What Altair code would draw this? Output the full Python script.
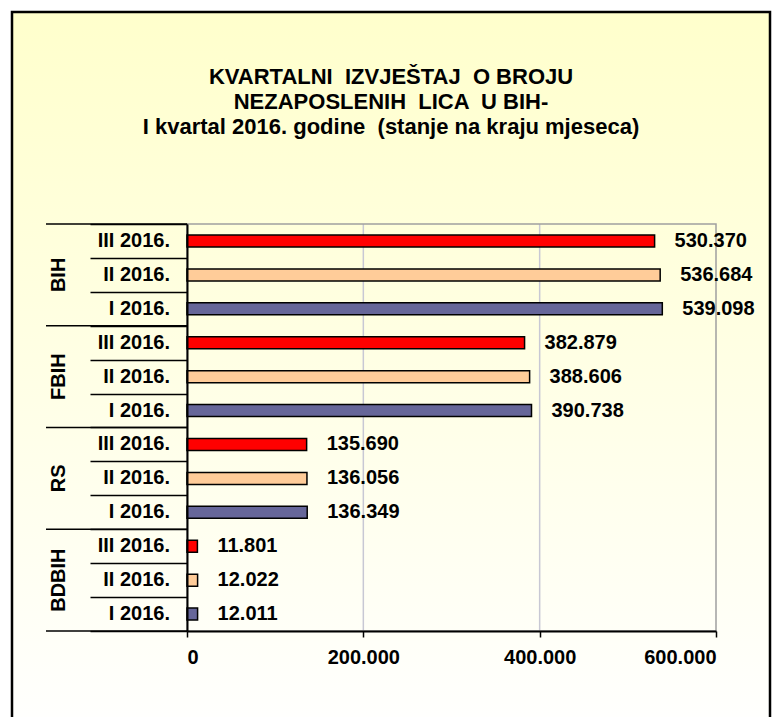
import altair as alt
import pandas as pd

groups = ["BIH", "FBIH", "RS", "BDBIH"]
quarters = ["III 2016.", "II 2016.", "I 2016."]
values_bih = [530370, 536684, 539098]
values_fbih = [382879, 388606, 390738]
values_rs = [135690, 136056, 136349]
values_bdbih = [11801, 12022, 12011]
colors = ["#FF0000", "#FFCC99", "#666699"]
x_ticks = [0, 200000, 400000, 600000]
grid_ticks = [200000, 400000]
NB = "\u00a0"
title_lines = [
    "KVARTALNI " + NB + "IZVJEŠTAJ " + NB + "O BROJU",
    "NEZAPOSLENIH " + NB + "LICA " + NB + "U BIH-",
    "I kvartal 2016. godine " + NB + "(stanje na kraju mjeseca)",
]

series = [values_bih, values_fbih, values_rs, values_bdbih]
rows = []
for g, vals in zip(groups, series):
    for q, v in zip(quarters, vals):
        rows.append({"group": g, "quarter": q, "value": v, "key": g + "|" + q})
df = pd.DataFrame(rows)
order = list(df["key"])

W, H = 529, 407
FONT = "Liberation Sans"
LBL = 20

yscale = alt.Scale(domain=order, paddingInner=0, paddingOuter=0)
xscale = alt.Scale(domain=[0, 600000], nice=False, zero=True)

base = alt.Chart(df)
one = pd.DataFrame({"a": [0]})

bg = alt.Chart(one).mark_rect(
    fill=alt.LinearGradient(
        gradient="linear",
        stops=[alt.GradientStop(color="#FFFFCC", offset=0),
               alt.GradientStop(color="#FFFFFF", offset=1)],
        x1=0, x2=0, y1=0, y2=1),
    stroke="black", strokeWidth=2.5,
).encode(x=alt.value(-175), x2=alt.value(583), y=alt.value(-212), y2=alt.value(520))

title = alt.Chart(one).mark_text(
    text=title_lines, lineHeight=25, fontSize=22, fontWeight="bold", font=FONT,
    color="black", align="center", baseline="middle",
).encode(x=alt.value(204), y=alt.value(-147))

grid = alt.Chart(pd.DataFrame({"t": grid_ticks})).mark_rule(
    color="#C8C8D4", strokeWidth=1.5
).encode(x=alt.X("t:Q", scale=xscale), y=alt.value(0), y2=alt.value(H))

frame = alt.Chart(one).mark_rect(
    filled=False, stroke="#A0A0A0", strokeWidth=1.5
).encode(x=alt.value(0), x2=alt.value(W), y=alt.value(0), y2=alt.value(H))

bars = base.mark_bar(size=12, stroke="black", strokeWidth=1.5).encode(
    x=alt.X("value:Q", scale=xscale, axis=alt.Axis(
        values=x_ticks, title=None, grid=False,
        labelExpr="datum.value == 0 ? '0' : replace(format(datum.value, ','), ',', '.')",
        domainColor="black", domainWidth=2, tickColor="black", tickSize=6, tickWidth=1.5,
        labelFontSize=LBL, labelFontWeight="bold", labelColor="black", labelPadding=10,
        labelFont=FONT, zindex=2)),
    y=alt.Y("key:N", sort=order, scale=yscale, axis=alt.Axis(
        labels=False, title=None, tickBand="extent", tickSize=97, tickColor="black",
        tickWidth=1.5, domainColor="black", domainWidth=2, zindex=2)),
    color=alt.Color("quarter:N", scale=alt.Scale(domain=quarters, range=colors), legend=None),
)

labels = base.transform_calculate(
    label="replace(format(datum.value, ','), ',', '.')"
).mark_text(align="left", baseline="middle", dx=20, fontSize=LBL, fontWeight="bold",
            color="black", font=FONT).encode(
    x=alt.X("value:Q", scale=xscale),
    y=alt.Y("key:N", sort=order, scale=yscale),
    text="label:N",
)

qlabels = base.mark_text(align="right", baseline="middle", fontSize=LBL, fontWeight="bold",
                         color="black", font=FONT).encode(
    x=alt.value(-17),
    y=alt.Y("key:N", sort=order, scale=yscale),
    text="quarter:N",
)

glabels = base.transform_filter(alt.datum.quarter == quarters[1]).mark_text(
    align="center", baseline="middle", angle=270, fontSize=20, fontWeight="bold",
    color="black", font=FONT).encode(
    x=alt.value(-128),
    y=alt.Y("key:N", sort=order, scale=yscale),
    text="group:N",
)

gsep = base.transform_filter(alt.datum.quarter == quarters[0]).mark_rule(
    color="black", strokeWidth=1.5).encode(
    x=alt.value(-141), x2=alt.value(0),
    y=alt.Y("key:N", sort=order, scale=yscale, bandPosition=0),
)
gsep_end = base.transform_filter(
    (alt.datum.quarter == quarters[2]) & (alt.datum.group == groups[-1])
).mark_rule(color="black", strokeWidth=1.5).encode(
    x=alt.value(-141), x2=alt.value(0),
    y=alt.Y("key:N", sort=order, scale=yscale, bandPosition=1),
)

chart = alt.layer(bg, title, grid, frame, bars, labels, qlabels, glabels, gsep, gsep_end).properties(
    width=W, height=H,
    autosize=alt.AutoSizeParams(type="none"),
    padding={"left": 187, "top": 224, "right": 57, "bottom": 86},
).configure_view(stroke=None).configure(background="white")

chart.save("out.html", embed_options={"renderer": "svg", "actions": False})
